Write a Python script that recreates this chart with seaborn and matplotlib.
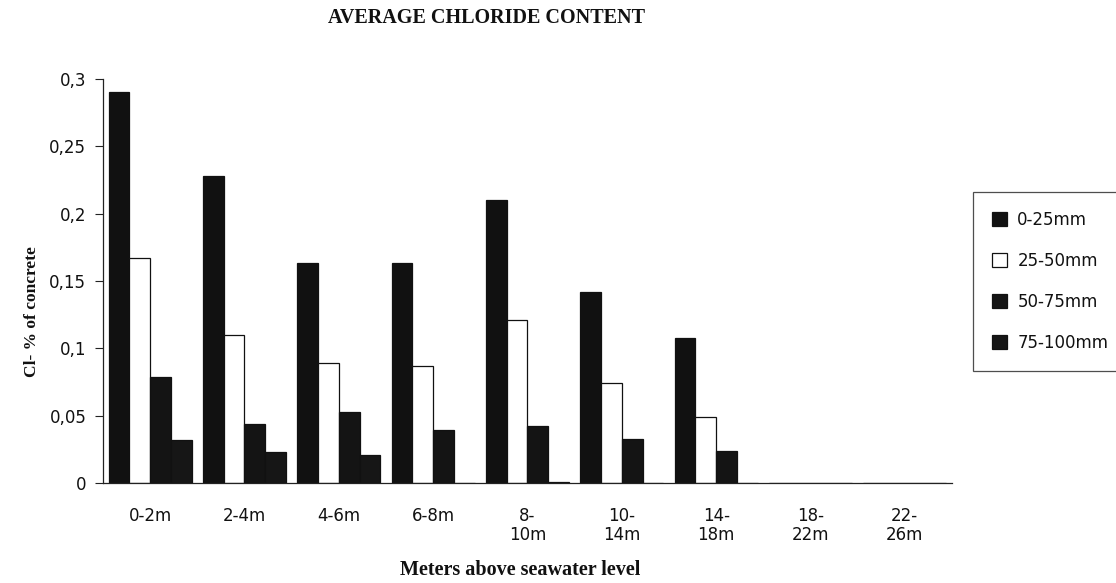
import matplotlib
matplotlib.use("Agg")
import matplotlib.pyplot as plt
import seaborn as sns
import pandas as pd
import numpy as np

categories = ["0-2m", "2-4m", "4-6m", "6-8m", "8-\n10m", "10-\n14m", "14-\n18m", "18-\n22m", "22-\n26m"]
depths = ["0-25mm", "25-50mm", "50-75mm", "75-100mm"]
v_0_25 = [0.290, 0.228, 0.163, 0.163, 0.210, 0.142, 0.108, 0.0, 0.0]
v_25_50 = [0.167, 0.110, 0.089, 0.087, 0.121, 0.074, 0.049, 0.0, 0.0]
v_50_75 = [0.079, 0.044, 0.053, 0.039, 0.042, 0.033, 0.024, 0.0, 0.0]
v_75_100 = [0.032, 0.023, 0.021, 0.0, 0.001, 0.0, 0.0, 0.0, 0.0]
y_ticks = [0, 0.05, 0.1, 0.15, 0.2, 0.25, 0.3]
y_tick_labels = ["0", "0,05", "0,1", "0,15", "0,2", "0,25", "0,3"]

rows = []
for d, vals in zip(depths, [v_0_25, v_25_50, v_50_75, v_75_100]):
    for c, v in zip(categories, vals):
        rows.append({"cat": c, "depth": d, "val": v})
df = pd.DataFrame(rows)

sns.set_theme(style="white")
plt.rcParams["font.family"] = ["DejaVu Sans"]

fig = plt.figure(figsize=(11.16, 5.83), dpi=100)
ax = fig.add_axes([0.0923, 0.1715, 0.7607, 0.693])

palette = {"0-25mm": "#111111", "25-50mm": "#ffffff", "50-75mm": "#141414", "75-100mm": "#161616"}
sns.barplot(data=df, x="cat", y="val", hue="depth", hue_order=depths, order=categories,
            palette=palette, width=0.88, edgecolor="#111111", linewidth=0.9,
            saturation=1, ax=ax, errorbar=None)

ax.set_xlim(-0.5, len(categories) - 0.5)
ax.set_ylim(0, 0.3)
ax.set_yticks(y_ticks)
ax.set_yticklabels(y_tick_labels, fontsize=12, color="#111111")
ax.set_xticks(range(len(categories)))
ax.set_xticklabels(categories, fontsize=12, linespacing=1.1, color="#111111")
ax.set_xticks(np.arange(-0.5, len(categories), 1.0), minor=True)
ax.tick_params(axis="x", which="major", length=0, pad=17)
ax.tick_params(axis="x", which="minor", length=8, direction="inout", width=0.8, color="#222222")
ax.tick_params(axis="y", which="major", length=6, direction="out", width=0.8, color="#222222", left=True, pad=6)

for s in ["top", "right"]:
    ax.spines[s].set_visible(False)
for s in ["left", "bottom"]:
    ax.spines[s].set_color("#222222")
    ax.spines[s].set_linewidth(0.9)

ax.set_xlabel("")
ax.set_ylabel("")
fig.text(0.4355, 0.969, "AVERAGE CHLORIDE CONTENT", family="Liberation Serif", weight="bold",
         fontsize=14.5, ha="center", va="center", color="#111111")
fig.text(0.466, 0.022, "Meters above seawater level", family="Liberation Serif", weight="bold",
         fontsize=14.5, ha="center", va="center", color="#111111")
fig.text(0.0290, 0.465, "Cl- % of concrete", family="Liberation Serif", weight="bold",
         fontsize=12.5, ha="center", va="center", rotation=90, color="#111111")

leg = ax.legend(loc="upper left", bbox_to_anchor=(0.872, 0.6707), bbox_transform=fig.transFigure,
                fontsize=12, frameon=True, fancybox=False, edgecolor="#222222",
                handlelength=0.9, handleheight=0.9, handletextpad=0.6, labelspacing=1.38,
                borderpad=1.15, borderaxespad=0)
leg.get_frame().set_linewidth(0.9)
for t in leg.get_texts():
    t.set_color("#111111")

fig.savefig("out.png", dpi=100, facecolor="white")
